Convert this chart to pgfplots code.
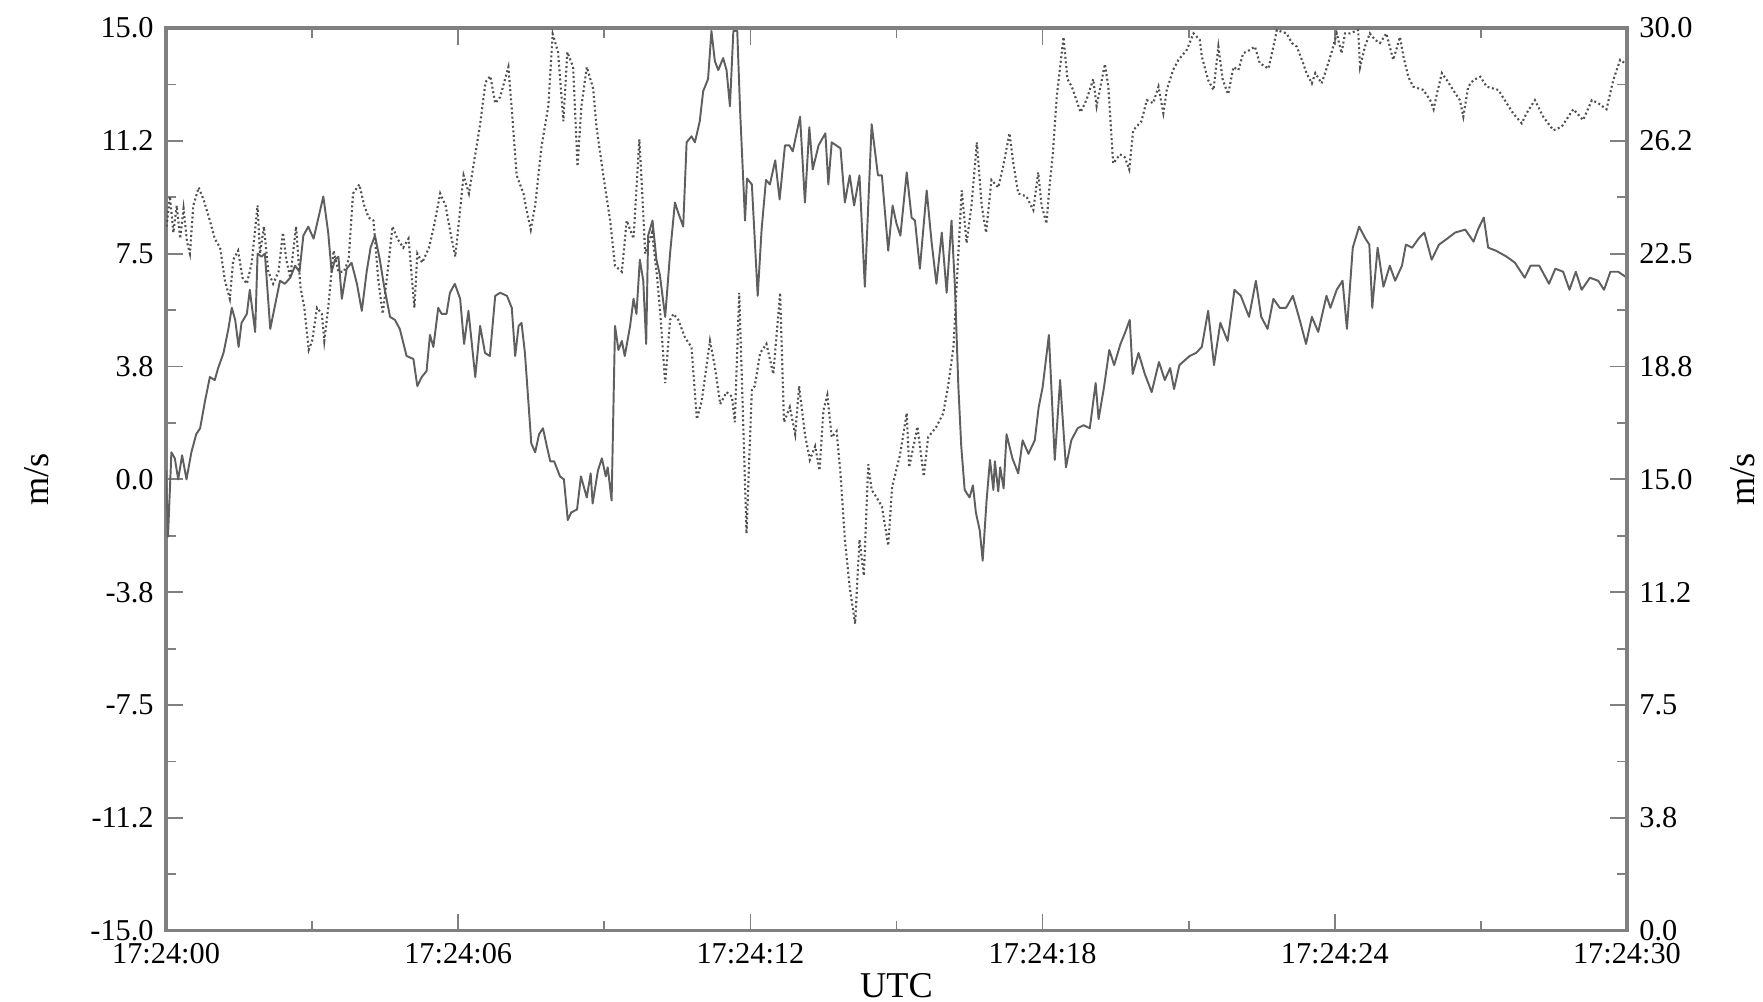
\documentclass[border=0pt]{standalone}
\usepackage{fontspec}
\setmainfont{Liberation Serif}
\usepackage{pgfplots}
\pgfplotsset{compat=1.18}
\definecolor{axgray}{RGB}{128,128,128}
\definecolor{solidgray}{RGB}{95,95,95}
\definecolor{dotgray}{RGB}{80,80,80}
\begin{document}
\begin{tikzpicture}
\pgfplotsset{
  common/.style={
    scale only axis, width=414.4pt, height=256.1pt,
    xmin=0, xmax=30,
    axis line style={axgray, line width=0.9pt},
    tick style={axgray, line width=0.5pt},
    major tick length=4.7pt, minor tick length=2.8pt,
    tick align=inside,
    ticklabel style={font=\fontsize{8.6}{10}\selectfont},
    /pgf/number format/assume math mode=true,
    label style={font=\fontsize{10.3}{12}\selectfont},
  }
}
\begin{axis}[common,
  ymin=-15, ymax=15,
  tick pos=both, xticklabel pos=left, yticklabel pos=left,
  xtick={0,6,12,18,24,30},
  xticklabels={17:24:00,17:24:06,17:24:12,17:24:18,17:24:24,17:24:30},
  minor xtick={3,9,15,21,27},
  ytick={-15,-11.25,-7.5,-3.75,0,3.75,7.5,11.25,15},
  yticklabels={-15.0,-11.2,-7.5,-3.8,0.0,3.8,7.5,11.2,15.0},
  minor ytick={-13.125,-9.375,-5.625,-1.875,1.875,5.625,9.375,13.125},
  xlabel={UTC}, ylabel={m/s},
  xlabel style={at={(axis description cs:0.5,-0.061)},anchor=center},
  ylabel style={at={(axis description cs:-0.0883,0.5)},anchor=center,rotate=0},
]
\addplot[solidgray, line width=0.55pt, line join=round, mark=none] coordinates {
(0.00,0.3)(0.04,-1.9)(0.11,0.9)(0.18,0.7)(0.25,0.0)(0.33,0.8)(0.42,0.0)(0.52,0.9)(0.62,1.5)(0.70,1.7)
(0.80,2.6)(0.90,3.4)(1.00,3.3)(1.07,3.7)(1.18,4.2)(1.28,5.0)(1.35,5.7)(1.42,5.3)(1.49,4.4)(1.55,5.2)
(1.66,5.5)(1.72,6.3)(1.83,4.9)(1.88,7.5)(1.96,7.4)(2.03,7.5)(2.14,5.0)(2.24,5.8)(2.34,6.6)(2.44,6.5)
(2.55,6.7)(2.65,7.1)(2.74,6.9)(2.82,8.1)(2.92,8.4)(3.03,8.0)(3.13,8.7)(3.23,9.4)(3.33,8.2)(3.40,6.9)
(3.47,7.3)(3.54,7.4)(3.61,6.0)(3.71,7.0)(3.81,7.2)(3.92,6.5)(4.02,5.6)(4.12,6.9)(4.20,7.7)(4.29,8.1)
(4.39,7.3)(4.48,6.4)(4.60,5.4)(4.70,5.3)(4.80,5.0)(4.94,4.1)(5.08,4.0)(5.16,3.1)(5.25,3.4)(5.35,3.6)
(5.42,4.8)(5.49,4.4)(5.59,5.7)(5.66,5.5)(5.76,5.5)(5.83,6.2)(5.93,6.5)(6.04,6.0)(6.12,4.5)(6.21,5.6)
(6.35,3.4)(6.45,5.1)(6.55,4.2)(6.65,4.1)(6.76,6.1)(6.86,6.2)(7.00,6.1)(7.10,5.7)(7.17,4.1)(7.24,5.1)
(7.30,5.2)(7.37,4.2)(7.44,2.6)(7.50,1.2)(7.58,0.9)(7.66,1.5)(7.74,1.7)(7.82,1.1)(7.89,0.6)(7.97,0.6)
(8.09,0.1)(8.17,0.0)(8.25,-1.35)(8.32,-1.1)(8.44,-1.0)(8.52,0.1)(8.64,-0.6)(8.72,0.2)(8.76,-0.8)(8.87,0.3)
(8.95,0.7)(9.03,0.1)(9.07,0.4)(9.15,-0.7)(9.22,5.1)(9.29,4.3)(9.36,4.6)(9.42,4.1)(9.53,5.1)(9.60,6.0)
(9.66,5.5)(9.73,7.3)(9.80,6.6)(9.86,4.5)(9.90,8.1)(9.99,8.6)(10.07,7.3)(10.14,6.8)(10.25,5.4)(10.35,7.5)
(10.45,9.2)(10.52,8.85)(10.62,8.4)(10.69,11.2)(10.79,11.4)(10.86,11.2)(10.96,11.9)(11.03,12.9)(11.13,13.3)(11.20,14.9)
(11.27,13.9)(11.34,13.6)(11.44,14.0)(11.51,13.6)(11.58,12.4)(11.65,14.9)(11.73,14.9)(11.79,12.2)(11.89,8.6)(11.93,10.0)
(12.03,9.8)(12.15,6.1)(12.23,8.3)(12.32,9.95)(12.40,9.8)(12.51,10.6)(12.60,9.3)(12.71,11.1)(12.80,11.1)(12.87,10.9)
(13.02,12.05)(13.12,9.2)(13.21,11.7)(13.28,10.3)(13.40,11.1)(13.54,11.5)(13.60,9.8)(13.67,11.2)(13.85,11.0)(13.94,9.2)
(14.04,10.1)(14.13,9.1)(14.24,10.1)(14.35,6.4)(14.49,11.8)(14.62,10.1)(14.70,10.1)(14.83,7.6)(14.92,9.1)(15.00,8.5)
(15.08,8.1)(15.21,10.2)(15.31,8.7)(15.38,8.6)(15.48,7.0)(15.62,9.6)(15.72,7.9)(15.82,6.5)(15.93,8.2)(16.03,6.2)
(16.13,8.6)(16.20,6.4)(16.27,3.1)(16.33,1.1)(16.40,-0.35)(16.50,-0.6)(16.57,-0.2)(16.63,-1.1)(16.71,-1.7)(16.77,-2.7)
(16.85,-0.7)(16.92,0.65)(16.99,-0.35)(17.02,0.6)(17.09,-0.4)(17.13,0.4)(17.20,-0.3)(17.26,1.5)(17.38,0.7)(17.50,0.2)
(17.59,1.3)(17.71,0.85)(17.84,1.3)(17.92,2.4)(18.00,3.05)(18.13,4.8)(18.25,0.65)(18.36,3.3)(18.48,0.4)(18.59,1.3)
(18.72,1.7)(18.84,1.8)(18.97,1.7)(19.09,3.2)(19.15,2.0)(19.26,3.05)(19.37,4.3)(19.47,3.8)(19.60,4.5)(19.70,4.9)
(19.79,5.3)(19.85,3.5)(19.97,4.2)(20.10,3.5)(20.24,2.9)(20.39,3.9)(20.51,3.3)(20.62,3.7)(20.70,3.0)(20.81,3.8)
(21.02,4.1)(21.15,4.2)(21.27,4.4)(21.40,5.6)(21.52,3.8)(21.65,5.2)(21.80,4.6)(21.94,6.3)(22.07,6.1)(22.24,5.4)
(22.38,6.6)(22.49,5.4)(22.62,5.0)(22.74,6.0)(22.87,5.7)(23.00,5.7)(23.14,6.1)(23.28,5.3)(23.41,4.5)(23.53,5.4)
(23.66,4.9)(23.83,6.1)(23.91,5.7)(24.04,6.3)(24.16,6.6)(24.25,5.0)(24.37,7.7)(24.50,8.4)(24.63,8.0)(24.71,7.8)
(24.77,5.7)(24.88,7.7)(25.00,6.4)(25.13,7.1)(25.24,6.6)(25.38,7.1)(25.46,7.8)(25.59,7.7)(25.72,8.0)(25.84,8.2)
(25.99,7.3)(26.14,7.8)(26.31,8.0)(26.47,8.2)(26.68,8.3)(26.85,7.9)(26.94,8.3)(27.06,8.7)(27.15,7.7)(27.31,7.6)
(27.53,7.4)(27.70,7.2)(27.90,6.7)(28.02,7.1)(28.20,7.1)(28.40,6.5)(28.53,7.0)(28.69,6.9)(28.82,6.3)(28.95,6.9)
(29.07,6.3)(29.24,6.7)(29.41,6.6)(29.53,6.3)(29.66,6.9)(29.82,6.9)(30.00,6.7)
};
\end{axis}
\begin{axis}[common,
  ymin=0, ymax=30,
  axis y line*=right, axis x line=none,
  ytick={0,3.75,7.5,11.25,15,18.75,22.5,26.25,30},
  yticklabels={0.0,3.8,7.5,11.2,15.0,18.8,22.5,26.2,30.0},
  minor ytick={1.875,5.625,9.375,13.125,16.875,20.625,24.375,28.125},
  ylabel={m/s},
  ylabel style={at={(axis description cs:1.0794,0.5)},anchor=center,rotate=0},
]
\addplot[dotgray, line width=0.6pt, dash pattern=on 0.55pt off 0.75pt, mark=none] coordinates {
(0.01,23.4)(0.08,24.4)(0.15,23.2)(0.22,24.1)(0.29,23.0)(0.36,24.0)(0.43,22.9)(0.49,22.5)(0.56,24.1)(0.67,24.7)
(0.77,24.3)(0.90,23.6)(1.00,23.0)(1.11,22.7)(1.21,21.6)(1.31,21.0)(1.38,22.3)(1.48,22.6)(1.57,21.7)(1.66,21.5)
(1.76,22.2)(1.88,24.1)(1.93,22.5)(2.01,23.4)(2.10,21.9)(2.20,21.5)(2.31,21.9)(2.40,23.2)(2.47,22.3)(2.55,21.7)
(2.67,23.4)(2.76,21.4)(2.84,20.7)(2.93,19.3)(3.00,19.6)(3.10,20.7)(3.20,20.5)(3.25,19.6)(3.33,20.7)(3.44,22.6)
(3.54,21.9)(3.65,21.9)(3.75,22.3)(3.84,24.5)(3.97,24.8)(4.07,24.1)(4.16,23.7)(4.26,23.6)(4.36,21.6)(4.45,20.5)
(4.55,21.9)(4.65,23.4)(4.75,23.0)(4.87,22.7)(4.98,23.0)(5.10,20.7)(5.16,22.5)(5.26,22.2)(5.40,22.7)(5.50,23.4)
(5.63,24.5)(5.74,24.1)(5.84,23.2)(5.94,22.4)(6.01,23.5)(6.11,25.1)(6.22,24.5)(6.35,25.8)(6.45,26.8)(6.56,28.2)
(6.66,28.4)(6.76,27.5)(6.86,27.7)(7.03,28.7)(7.10,27.3)(7.20,25.1)(7.34,24.5)(7.41,23.9)(7.49,23.3)(7.58,24.1)
(7.71,26.05)(7.85,27.4)(7.94,29.8)(8.05,29.2)(8.16,26.9)(8.24,29.2)(8.36,28.7)(8.45,25.4)(8.53,27.4)(8.64,28.7)
(8.77,28.0)(8.84,26.7)(8.98,25.1)(9.12,23.6)(9.22,22.1)(9.36,21.9)(9.46,23.6)(9.60,23.0)(9.72,26.3)(9.77,24.8)
(9.84,22.5)(9.98,23.2)(10.08,21.8)(10.15,20.5)(10.25,18.2)(10.35,20.3)(10.42,20.5)(10.52,20.3)(10.66,19.7)(10.79,19.4)
(10.90,17.0)(11.00,17.6)(11.17,19.6)(11.27,18.75)(11.38,17.5)(11.51,17.9)(11.62,17.75)(11.68,16.9)(11.77,21.2)(11.85,17.0)
(11.92,13.2)(12.03,18.0)(12.09,18.1)(12.20,19.2)(12.33,19.5)(12.47,18.5)(12.61,21.2)(12.69,16.9)(12.81,17.4)(12.92,16.5)
(13.00,18.1)(13.12,16.5)(13.22,15.65)(13.33,16.1)(13.42,15.3)(13.50,17.3)(13.58,17.8)(13.67,16.4)(13.77,16.6)(13.85,15.2)
(13.94,13.0)(14.04,11.4)(14.15,10.2)(14.24,13.0)(14.33,11.8)(14.42,15.5)(14.49,14.65)(14.59,14.4)(14.70,14.1)(14.83,12.8)
(14.91,14.75)(15.07,15.8)(15.21,17.2)(15.26,15.4)(15.43,16.75)(15.56,15.1)(15.65,16.4)(15.82,16.75)(15.96,17.2)(16.06,18.1)
(16.17,19.4)(16.27,22.5)(16.34,24.6)(16.44,22.85)(16.54,24.1)(16.65,26.2)(16.75,24.1)(16.84,23.2)(16.95,24.95)(17.09,24.7)
(17.19,25.4)(17.32,26.5)(17.40,25.5)(17.50,24.5)(17.67,24.4)(17.81,23.95)(17.91,25.2)(17.98,24.1)(18.08,23.5)(18.14,24.7)
(18.21,25.8)(18.29,27.7)(18.43,29.7)(18.51,28.3)(18.60,28.05)(18.78,27.2)(18.90,27.6)(19.04,28.3)(19.11,27.4)(19.28,28.8)
(19.35,28.05)(19.45,25.5)(19.59,25.8)(19.69,25.7)(19.78,25.3)(19.86,26.6)(20.03,26.9)(20.14,27.6)(20.27,27.5)(20.38,28.05)
(20.48,27.17)(20.55,27.94)(20.68,28.6)(20.79,28.94)(20.96,29.27)(21.10,29.82)(21.23,29.6)(21.27,29.05)(21.40,28.27)(21.51,27.94)
(21.61,29.38)(21.70,28.27)(21.81,27.8)(21.92,28.7)(22.02,28.6)(22.12,29.16)(22.26,29.27)(22.36,29.38)(22.46,28.83)(22.64,28.65)
(22.74,29.38)(22.81,29.93)(23.01,29.82)(23.12,29.5)(23.22,29.38)(23.35,28.83)(23.42,28.5)(23.53,28.16)(23.60,28.5)(23.73,28.16)
(23.80,28.5)(23.93,29.16)(24.04,29.82)(24.14,29.16)(24.21,29.82)(24.31,29.82)(24.48,29.93)(24.52,28.7)(24.62,29.38)(24.72,29.82)
(24.83,29.6)(24.93,29.5)(25.06,29.82)(25.20,28.94)(25.34,29.7)(25.41,29.05)(25.51,28.38)(25.61,28.05)(25.82,27.94)(25.96,27.6)
(26.03,27.3)(26.10,27.83)(26.20,28.5)(26.30,28.27)(26.43,27.94)(26.57,27.6)(26.64,27.05)(26.74,28.05)(26.85,28.27)(26.99,28.38)
(27.12,28.05)(27.36,27.94)(27.53,27.5)(27.66,27.17)(27.84,26.83)(27.94,27.17)(28.11,27.6)(28.28,27.05)(28.49,26.6)(28.66,26.72)
(28.90,27.3)(29.10,26.94)(29.28,27.6)(29.41,27.5)(29.58,27.3)(29.72,28.27)(29.86,28.94)(29.96,28.83)
};
\end{axis}
\pgfresetboundingbox
\path[use as bounding box] ([xshift=-47.1pt,yshift=-20.1pt]current axis.south west) rectangle ([xshift=38.6pt,yshift=7.94pt]current axis.north east);
\end{tikzpicture}
\end{document}
